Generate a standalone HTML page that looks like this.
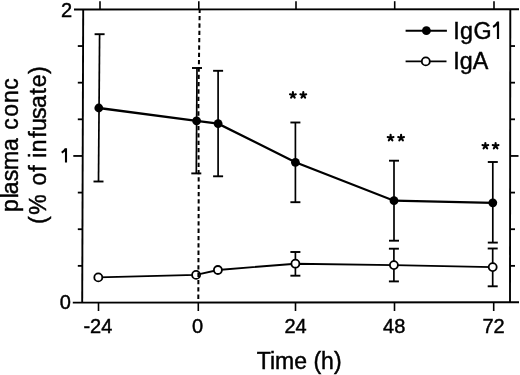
<!DOCTYPE html>
<html><head><meta charset="utf-8"><style>
html,body{margin:0;padding:0;background:#fff;width:520px;height:375px;overflow:hidden}
svg{display:block;filter:grayscale(1)}
text{font-family:"Liberation Sans", sans-serif;fill:#000;stroke:#000;stroke-width:0.45px}
</style></head><body>
<svg width="520" height="375" viewBox="0 0 520 375">
<rect width="520" height="375" fill="#fff"/>
<g stroke="#000" stroke-linecap="butt" fill="none">
<line x1="83.2" y1="9.4" x2="82.2" y2="302.6" stroke-width="1.9"/>
<line x1="510.3" y1="9.3" x2="510" y2="302.4" stroke-width="1.9"/>
<line x1="74" y1="9.5" x2="519" y2="9.2" stroke-width="1.9"/>
<line x1="72.8" y1="302.6" x2="519" y2="302.2" stroke-width="1.9"/>
<line x1="77.8" y1="265.86" x2="82.32" y2="265.86" stroke-width="1.8"/>
<line x1="510.04" y1="265.86" x2="515" y2="265.86" stroke-width="1.8"/>
<line x1="77.8" y1="229.22" x2="82.45" y2="229.22" stroke-width="1.8"/>
<line x1="510.07" y1="229.22" x2="515" y2="229.22" stroke-width="1.8"/>
<line x1="77.8" y1="192.59" x2="82.57" y2="192.59" stroke-width="1.8"/>
<line x1="510.11" y1="192.59" x2="515" y2="192.59" stroke-width="1.8"/>
<line x1="73.3" y1="155.95" x2="82.7" y2="155.95" stroke-width="1.8"/>
<line x1="510.15" y1="155.95" x2="518.5" y2="155.95" stroke-width="1.8"/>
<line x1="77.8" y1="119.31" x2="82.82" y2="119.31" stroke-width="1.8"/>
<line x1="510.19" y1="119.31" x2="515" y2="119.31" stroke-width="1.8"/>
<line x1="77.8" y1="82.67" x2="82.95" y2="82.67" stroke-width="1.8"/>
<line x1="510.22" y1="82.67" x2="515" y2="82.67" stroke-width="1.8"/>
<line x1="77.8" y1="46.04" x2="83.07" y2="46.04" stroke-width="1.8"/>
<line x1="510.26" y1="46.04" x2="515" y2="46.04" stroke-width="1.8"/>
<line x1="100" y1="1.2" x2="100" y2="9.4" stroke-width="1.6"/>
<line x1="98.5" y1="302.4" x2="98.5" y2="311" stroke-width="1.6"/>
<line x1="198.8" y1="1.2" x2="198.8" y2="9.4" stroke-width="1.6"/>
<line x1="198.3" y1="302.4" x2="198.3" y2="311" stroke-width="1.6"/>
<line x1="296" y1="1.2" x2="296" y2="9.4" stroke-width="1.6"/>
<line x1="295.5" y1="302.4" x2="295.5" y2="311" stroke-width="1.6"/>
<line x1="394.7" y1="1.2" x2="394.7" y2="9.4" stroke-width="1.6"/>
<line x1="394.5" y1="302.4" x2="394.5" y2="311" stroke-width="1.6"/>
<line x1="494" y1="1.2" x2="494" y2="9.4" stroke-width="1.6"/>
<line x1="493.7" y1="302.4" x2="493.7" y2="311" stroke-width="1.6"/>
<line x1="99.6" y1="34.2" x2="98.5" y2="181.5" stroke-width="1.7"/>
<line x1="94.6" y1="34.2" x2="104.6" y2="34.2" stroke-width="1.9"/>
<line x1="93.5" y1="181.5" x2="103.5" y2="181.5" stroke-width="1.9"/>
<line x1="197" y1="68" x2="196.3" y2="173.4" stroke-width="1.7"/>
<line x1="192" y1="68" x2="202" y2="68" stroke-width="1.9"/>
<line x1="191.3" y1="173.4" x2="201.3" y2="173.4" stroke-width="1.9"/>
<line x1="218.1" y1="70.8" x2="218.1" y2="176.3" stroke-width="1.7"/>
<line x1="213.1" y1="70.8" x2="223.1" y2="70.8" stroke-width="1.9"/>
<line x1="213.1" y1="176.3" x2="223.1" y2="176.3" stroke-width="1.9"/>
<line x1="295.4" y1="122.5" x2="295.4" y2="202.2" stroke-width="1.7"/>
<line x1="290.4" y1="122.5" x2="300.4" y2="122.5" stroke-width="1.9"/>
<line x1="290.4" y1="202.2" x2="300.4" y2="202.2" stroke-width="1.9"/>
<line x1="394" y1="160.7" x2="394" y2="240.7" stroke-width="1.7"/>
<line x1="389" y1="160.7" x2="399" y2="160.7" stroke-width="1.9"/>
<line x1="389" y1="240.7" x2="399" y2="240.7" stroke-width="1.9"/>
<line x1="492.8" y1="162" x2="492.8" y2="242.6" stroke-width="1.7"/>
<line x1="487.8" y1="162" x2="497.8" y2="162" stroke-width="1.9"/>
<line x1="487.8" y1="242.6" x2="497.8" y2="242.6" stroke-width="1.9"/>
<line x1="295.4" y1="252" x2="295.4" y2="275.7" stroke-width="1.7"/>
<line x1="290.4" y1="252" x2="300.4" y2="252" stroke-width="1.9"/>
<line x1="290.4" y1="275.7" x2="300.4" y2="275.7" stroke-width="1.9"/>
<line x1="393.9" y1="248.7" x2="393.9" y2="281.4" stroke-width="1.7"/>
<line x1="388.9" y1="248.7" x2="398.9" y2="248.7" stroke-width="1.9"/>
<line x1="388.9" y1="281.4" x2="398.9" y2="281.4" stroke-width="1.9"/>
<line x1="492.7" y1="248.5" x2="492.7" y2="286.3" stroke-width="1.7"/>
<line x1="487.7" y1="248.5" x2="497.7" y2="248.5" stroke-width="1.9"/>
<line x1="487.7" y1="286.3" x2="497.7" y2="286.3" stroke-width="1.9"/>
<polyline points="98.8,108.0 196.6,120.8 218.1,123.6 295.4,162.3 394.0,200.7 492.8,202.8" fill="none" stroke-width="2.3"/>
<polyline points="98.3,277.4 196.1,274.9 217.9,270.0 295.4,263.7 393.9,265.1 492.7,267.1" fill="none" stroke-width="1.9"/>
<circle cx="98.8" cy="108.0" r="4.4" fill="#000" stroke="none"/>
<circle cx="196.6" cy="120.8" r="4.4" fill="#000" stroke="none"/>
<circle cx="218.1" cy="123.6" r="4.4" fill="#000" stroke="none"/>
<circle cx="295.4" cy="162.3" r="4.4" fill="#000" stroke="none"/>
<circle cx="394.0" cy="200.7" r="4.4" fill="#000" stroke="none"/>
<circle cx="492.8" cy="202.8" r="4.4" fill="#000" stroke="none"/>
<circle cx="98.3" cy="277.4" r="4.0" fill="#fff" stroke-width="1.8"/>
<circle cx="196.1" cy="274.9" r="4.0" fill="#fff" stroke-width="1.8"/>
<circle cx="217.9" cy="270.0" r="4.0" fill="#fff" stroke-width="1.8"/>
<circle cx="295.4" cy="263.7" r="4.0" fill="#fff" stroke-width="1.8"/>
<circle cx="393.9" cy="265.1" r="4.0" fill="#fff" stroke-width="1.8"/>
<circle cx="492.7" cy="267.1" r="4.0" fill="#fff" stroke-width="1.8"/>
<polyline points="199.7,9.5 198.4,100 198.7,190 198.3,302.4" stroke-width="2" stroke-dasharray="4.3 3.03" stroke-dashoffset="0.78" fill="none"/>
<line x1="405.6" y1="30.7" x2="446.9" y2="30.7" stroke-width="1.9"/>
<circle cx="426.4" cy="30.7" r="4.4" fill="#000" stroke="none"/>
<line x1="405.6" y1="61.4" x2="446.5" y2="61.4" stroke-width="1.9"/>
<circle cx="425.8" cy="61.4" r="4.0" fill="#fff" stroke-width="1.8"/>
<path d="M61.7,152.6 Q64.4,151.2 65.9,148.6 M66,148.3 V162.6" stroke-width="2.1"/>
<path d="M493.1,26.9 Q496.3,25.3 497.9,21.9 M498,21.6 V38.9" stroke-width="2.2"/>
<path d="M292.90,95.20L292.90,92.15M292.90,95.20L295.80,94.26M292.90,95.20L294.69,97.67M292.90,95.20L291.11,97.67M292.90,95.20L290.00,94.26" stroke-width="2.1" stroke-linecap="round"/>
<path d="M303.30,95.20L303.30,92.15M303.30,95.20L306.20,94.26M303.30,95.20L305.09,97.67M303.30,95.20L301.51,97.67M303.30,95.20L300.40,94.26" stroke-width="2.1" stroke-linecap="round"/>
<path d="M390.60,137.90L390.60,134.85M390.60,137.90L393.50,136.96M390.60,137.90L392.39,140.37M390.60,137.90L388.81,140.37M390.60,137.90L387.70,136.96" stroke-width="2.1" stroke-linecap="round"/>
<path d="M401.10,137.90L401.10,134.85M401.10,137.90L404.00,136.96M401.10,137.90L402.89,140.37M401.10,137.90L399.31,140.37M401.10,137.90L398.20,136.96" stroke-width="2.1" stroke-linecap="round"/>
<path d="M485.35,146.00L485.35,142.95M485.35,146.00L488.25,145.06M485.35,146.00L487.14,148.47M485.35,146.00L483.56,148.47M485.35,146.00L482.45,145.06" stroke-width="2.1" stroke-linecap="round"/>
<path d="M495.60,146.00L495.60,142.95M495.60,146.00L498.50,145.06M495.60,146.00L497.39,148.47M495.60,146.00L493.81,148.47M495.60,146.00L492.70,145.06" stroke-width="2.1" stroke-linecap="round"/>
</g>
<g>
<text x="72.2" y="16.7" font-size="20" text-anchor="end">2</text>
<text x="70.9" y="309.4" font-size="20" text-anchor="end">0</text>
<text x="97.9" y="332.8" font-size="20" text-anchor="middle">-24</text>
<text x="197.6" y="332.8" font-size="20" text-anchor="middle">0</text>
<text x="295.5" y="332.8" font-size="20" text-anchor="middle">24</text>
<text x="394.2" y="332.8" font-size="20" text-anchor="middle">48</text>
<text x="493.5" y="332.8" font-size="20" text-anchor="middle">72</text>
<text x="299.2" y="369.2" font-size="23" text-anchor="middle">Time (h)</text>
<text x="453.3" y="39.0" font-size="23.3" text-anchor="start" letter-spacing="0.35">IgG</text>
<text x="453.3" y="69.3" font-size="23.3" text-anchor="start">IgA</text>
<text transform="translate(17.5,0) rotate(-90)" font-size="23" x="-212.05 -198.36 -194.28 -181.35 -169.89 -150.98 -137.20 -129.64 -116.80 -103.01 -89.69" y="0">plasma&#160;conc</text>
<text transform="translate(45.9,0) rotate(-90)" font-size="23" x="-224.08 -214.83 -194.70 -185.40 -171.87 -165.20 -157.85 -152.31 -137.67 -130.88 -119.05 -107.88 -94.58 -87.37 -73.88" y="0">(%&#160;of&#160;infusate)</text>
</g>
</svg>
</body></html>
